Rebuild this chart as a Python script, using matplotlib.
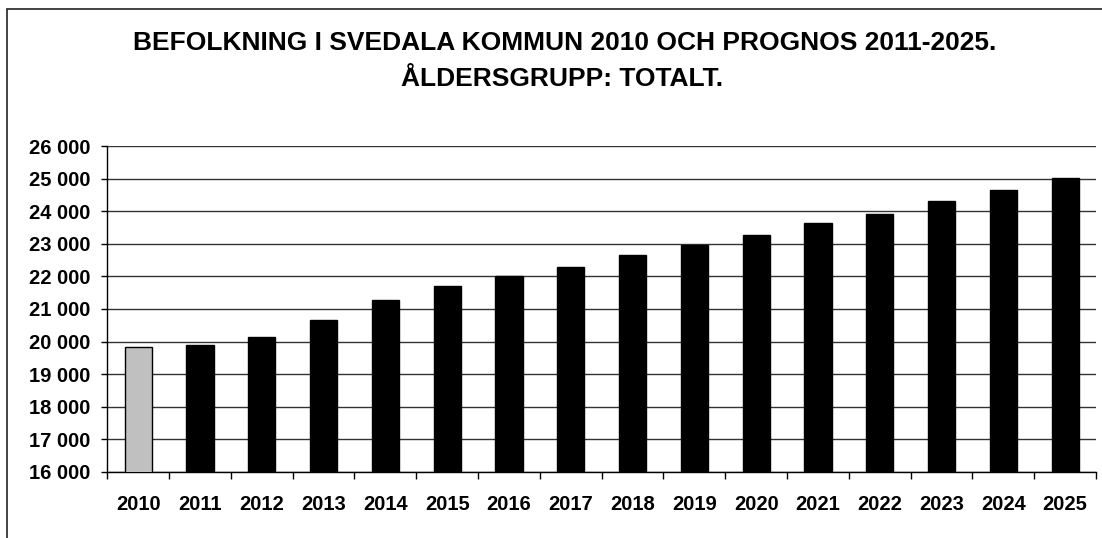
import matplotlib.pyplot as plt
from matplotlib.patches import Rectangle
from matplotlib.ticker import FuncFormatter

plt.rcParams["font.family"] = ["Liberation Sans", "DejaVu Sans"]

# data
years = ["2010", "2011", "2012", "2013", "2014", "2015", "2016", "2017",
         "2018", "2019", "2020", "2021", "2022", "2023", "2024", "2025"]
population = [19825, 19895, 20130, 20655, 21290, 21700, 22010, 22290,
              22655, 22960, 23265, 23650, 23910, 24315, 24660, 25030]
y_ticks = [16000, 17000, 18000, 19000, 20000, 21000, 22000, 23000,
           24000, 25000, 26000]

W, H = 1102, 538
fig = plt.figure(figsize=(W / 100, H / 100), dpi=100)

# outer chart frame (right and bottom edges fall outside the image)
fig.patches.append(Rectangle((7 / W, -0.05), 1.1, 1.05 - 9 / H,
                             transform=fig.transFigure, fill=False,
                             edgecolor="#222222", linewidth=1.2))

ax = fig.add_axes([107.3 / W, 1 - 471.7 / H, (1096 - 107.3) / W,
                   (471.7 - 146.3) / H])

colors = ["#c0c0c0"] + ["black"] * (len(years) - 1)
x = list(range(len(years)))
ax.bar(x, population, width=0.44, color=colors, edgecolor="black",
       linewidth=1.0, zorder=3)

ax.set_ylim(16000, 26000)
ax.set_xlim(-0.5, len(years) - 0.5)
ax.set_yticks(y_ticks)
ax.yaxis.set_major_formatter(
    FuncFormatter(lambda v, p: f"{int(v):,}".replace(",", " ")))
ax.yaxis.grid(True, color="#333333", linewidth=1.0, zorder=0)

ax.set_xticks(x)
ax.set_xticklabels(years)
ax.set_xticks([i - 0.5 for i in range(len(years) + 1)], minor=True)
ax.tick_params(axis="x", which="major", length=0, pad=17)
ax.tick_params(axis="x", which="minor", length=5, width=1, direction="out")
ax.tick_params(axis="y", length=4, width=1, direction="out", pad=8)

for lab in ax.get_xticklabels() + ax.get_yticklabels():
    lab.set_fontweight("bold")
    lab.set_fontsize(14.5)

for side in ["top", "right"]:
    ax.spines[side].set_visible(False)
ax.spines["left"].set_linewidth(1.0)
ax.spines["bottom"].set_linewidth(1.0)

fig.text(565 / W, 1 - 43 / H,
         "BEFOLKNING I SVEDALA KOMMUN 2010 OCH PROGNOS 2011-2025.",
         ha="center", va="center", fontsize=19, fontweight="bold")
fig.text(562 / W, 1 - 79 / H, "ÅLDERSGRUPP: TOTALT.",
         ha="center", va="center", fontsize=19, fontweight="bold")

fig.savefig("out.png", dpi=100)
